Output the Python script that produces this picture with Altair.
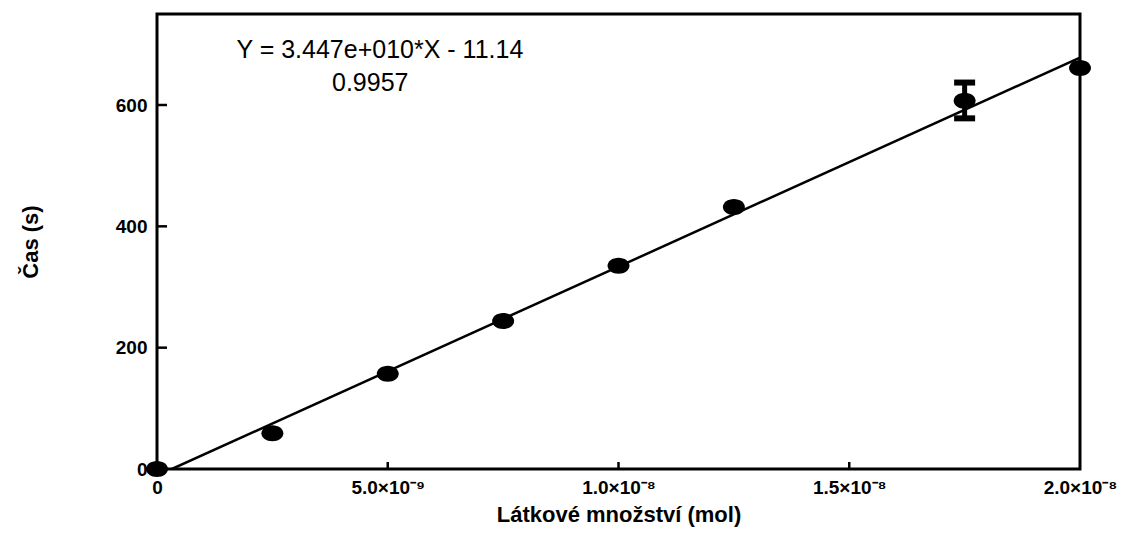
import altair as alt
import pandas as pd

# ---- data ----
amount_mol = [0.0, 2.5e-9, 5.0e-9, 7.5e-9, 1.0e-8, 1.25e-8, 1.75e-8, 2.0e-8]
time_s = [0, 59, 157, 244, 335, 432, 607, 661]

err_amount = [1.75e-8]
err_low = [578]
err_high = [637]

slope = 3.447e10
intercept = -11.14
equation_text = ["Y = 3.447e+010*X - 11.14", "0.9957"]
equation_x = [4.83e-9, 4.62e-9]
equation_y = [690, 636]

x_ticks = [0.0, 5.0e-9, 1.0e-8, 1.5e-8, 2.0e-8]
x_tick_labels = ["0", "5.0×10⁻⁹", "1.0×10⁻⁸", "1.5×10⁻⁸", "2.0×10⁻⁸"]
y_ticks = [0, 200, 400, 600]

X_MAX = 2.0e-8
Y_MAX = 750
W, H = 923, 455
FONT = "Liberation Sans"

pts = pd.DataFrame({"x": amount_mol, "y": time_s})
err = pd.DataFrame({"x": err_amount, "lo": err_low, "hi": err_high})
x_start = -intercept / slope
fit = pd.DataFrame({"x": [x_start, X_MAX],
                    "y": [slope * x_start + intercept, slope * X_MAX + intercept]})
ann = pd.DataFrame({"x": equation_x, "y": equation_y, "t": equation_text})
xt = pd.DataFrame({"x": x_ticks[1:-1]})
yt = pd.DataFrame({"y": y_ticks[1:]})

label_expr = " : ".join(
    f"abs(datum.value - {v}) < 1e-12 ? '{lab}'" for v, lab in zip(x_ticks, x_tick_labels)
) + " : ''"

xscale = alt.Scale(domain=[0, X_MAX], nice=False, zero=False)
yscale = alt.Scale(domain=[0, Y_MAX], nice=False, zero=False)

xaxis = alt.Axis(values=x_ticks, labelExpr=label_expr, title="Látkové množství (mol)",
                 labelPadding=9, titleY=45, titleBaseline="middle",
                 labelFontSize=19, labelFontWeight="bold", labelFont=FONT,
                 titleFontSize=22, titleFontWeight="bold", titleFont=FONT,
                 labelFlush=False, labelOverlap=False, labelColor="black", titleColor="black",
                 domain=False, ticks=False, grid=False)
yaxis = alt.Axis(values=y_ticks, title="Čas (s)", format="d",
                 labelPadding=10, titleX=-127, titleBaseline="middle",
                 labelFontSize=19, labelFontWeight="bold", labelFont=FONT,
                 titleFontSize=22, titleFontWeight="bold", titleFont=FONT,
                 labelFlush=False, labelOverlap=False, labelColor="black", titleColor="black",
                 domain=False, ticks=False, grid=False)

base_x = alt.X("x:Q", scale=xscale, axis=xaxis)
base_y = alt.Y("y:Q", scale=yscale, axis=yaxis)

line = alt.Chart(fit).mark_line(color="black", strokeWidth=2.5, clip=True).encode(x=base_x, y=base_y)

ellipse = "M-1,0 A1,0.73,0,1,1,1,0 A1,0.73,0,1,1,-1,0 Z"
points = alt.Chart(pts).mark_point(shape=ellipse, size=484, filled=True, color="black",
                                   opacity=1).encode(x=base_x, y=base_y)

ebar = alt.Chart(err).mark_rule(color="black", strokeWidth=5, opacity=1).encode(
    x=alt.X("x:Q", scale=xscale), y=alt.Y("lo:Q", scale=yscale), y2="hi:Q")
cap_lo = alt.Chart(err).mark_tick(color="black", thickness=6, size=21, orient="horizontal",
                                  opacity=1).encode(
    x=alt.X("x:Q", scale=xscale), y=alt.Y("lo:Q", scale=yscale))
cap_hi = alt.Chart(err).mark_tick(color="black", thickness=6, size=21, orient="horizontal",
                                  opacity=1).encode(
    x=alt.X("x:Q", scale=xscale), y=alt.Y("hi:Q", scale=yscale))

ytick_marks = alt.Chart(yt).mark_rule(color="black", strokeWidth=2.5).encode(
    y=alt.Y("y:Q", scale=yscale), x=alt.value(0), x2=alt.value(10))
xtick_marks = alt.Chart(xt).mark_rule(color="black", strokeWidth=2.5).encode(
    x=alt.X("x:Q", scale=xscale), y=alt.value(H), y2=alt.value(H - 7))

text = alt.Chart(ann).mark_text(font=FONT, fontSize=25, color="black", align="center",
                                baseline="middle").encode(
    x=alt.X("x:Q", scale=xscale), y=alt.Y("y:Q", scale=yscale), text="t:N")

chart = alt.layer(line, ytick_marks, xtick_marks, ebar, cap_lo, cap_hi, points, text).properties(
    width=W, height=H,
    autosize=alt.AutoSizeParams(type="none"),
    padding={"left": 149, "top": 6, "right": 58, "bottom": 60},
    background="white",
).configure_view(stroke="black", strokeWidth=3)

chart.save("out.html", embed_options={"renderer": "svg", "actions": False})
